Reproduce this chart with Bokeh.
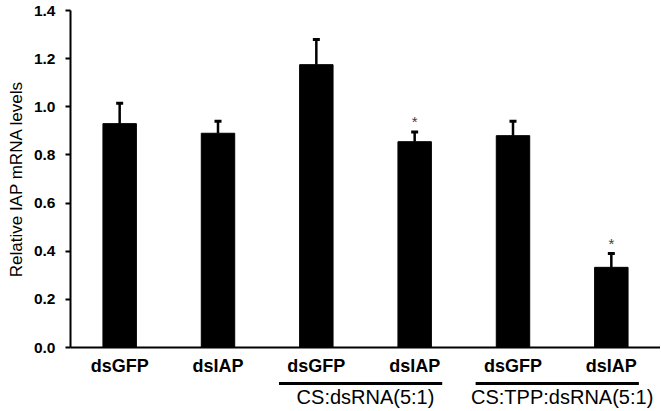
from bokeh.plotting import figure
from bokeh.layouts import column
from bokeh.models import Range1d, FixedTicker, Whisker, TeeHead, ColumnDataSource, PrintfTickFormatter
from bokeh.core.properties import value
from bokeh.embed import file_html
from bokeh.resources import INLINE

# ---- data ----
labels = ["dsGFP", "dsIAP", "dsGFP", "dsIAP", "dsGFP", "dsIAP"]
values = [0.93, 0.89, 1.175, 0.855, 0.88, 0.333]
errors = [0.085, 0.05, 0.105, 0.04, 0.06, 0.057]
signif = ["", "", "", "*", "", "*"]
group_names = ["CS:dsRNA(5:1)", "CS:TPP:dsRNA(5:1)"]
group_members = [[2, 3], [4, 5]]
y_ticks = [0.0, 0.2, 0.4, 0.6, 0.8, 1.0, 1.2, 1.4]
y_label = "Relative IAP mRNA levels"

FONT = "Liberation Sans"
W = 660

xs = [i + 0.5 for i in range(len(labels))]
src = ColumnDataSource(dict(
    x=xs, value=values,
    upper=[v + e for v, e in zip(values, errors)],
    sig=signif,
))

p = figure(width=W, height=378, x_range=Range1d(0, len(labels)), y_range=Range1d(0, 1.4),
           output_backend="svg", toolbar_location=None,
           min_border_left=70, min_border_right=0, min_border_top=10, min_border_bottom=30)
p.outline_line_color = None
p.xgrid.visible = False
p.ygrid.visible = False
p.background_fill_color = "white"

p.vbar(x="x", top="value", bottom=0, width=0.34, source=src,
       fill_color="black", line_color="black")

wh = Whisker(source=src, base="x", upper="upper", lower="value", dimension="height",
             line_color="black", line_width=2.5,
             upper_head=TeeHead(size=7, line_width=3, line_color="black"),
             lower_head=None)
p.add_layout(wh)

p.text(x="x", y="upper", text="sig", source=src, y_offset=-2,
       text_align="center", text_baseline="bottom",
       text_font=value(FONT), text_font_size="15px", text_color="#404040")

# y axis
ya = p.yaxis[0]
ya.ticker = FixedTicker(ticks=y_ticks)
ya.formatter = PrintfTickFormatter(format="%.1f")
ya.axis_line_width = 2
ya.axis_line_color = "black"
ya.major_tick_line_width = 2
ya.major_tick_out = 5
ya.major_tick_in = 0
ya.minor_tick_out = 0
ya.minor_tick_in = 0
ya.major_label_text_font = FONT
ya.major_label_text_font_style = "bold"
ya.major_label_text_font_size = "15.5px"
ya.major_label_text_color = "black"
ya.major_label_standoff = 10
ya.axis_label = y_label
ya.axis_label_text_font = FONT
ya.axis_label_text_font_style = "normal"
ya.axis_label_text_font_size = "17px"
ya.axis_label_text_color = "black"
ya.axis_label_standoff = 5

# x axis
xa = p.xaxis[0]
xa.ticker = FixedTicker(ticks=xs)
xa.major_label_overrides = {x: lab for x, lab in zip(xs, labels)}
xa.axis_line_width = 2
xa.axis_line_color = "black"
xa.major_tick_out = 0
xa.major_tick_in = 0
xa.minor_tick_out = 0
xa.minor_tick_in = 0
xa.major_label_text_font = FONT
xa.major_label_text_font_style = "bold"
xa.major_label_text_font_size = "18px"
xa.major_label_text_color = "black"
xa.major_label_standoff = 8

# group strip below
p2 = figure(width=W, height=32, x_range=p.x_range, y_range=Range1d(32, 0),
            output_backend="svg", toolbar_location=None,
            x_axis_type=None, y_axis_type=None,
            min_border_left=70, min_border_right=0, min_border_top=0, min_border_bottom=0)
p2.outline_line_color = None
p2.grid.visible = False

gx0 = [xs[m[0]] - 0.38 for m in group_members]
gx1 = [xs[m[-1]] + 0.28 for m in group_members]
gxc = [sum(xs[i] for i in m) / len(m) for m in group_members]
p2.segment(x0=gx0, y0=[5] * len(gx0), x1=gx1, y1=[5] * len(gx1),
           line_color="black", line_width=3)
p2.text(x=gxc, y=[18.5] * len(gxc), text=group_names,
        text_align="center", text_baseline="middle",
        text_font=value(FONT), text_font_size="20px", text_color="black")

layout = column(p, p2, spacing=0)
open("out.html", "w").write(file_html(layout, INLINE))
